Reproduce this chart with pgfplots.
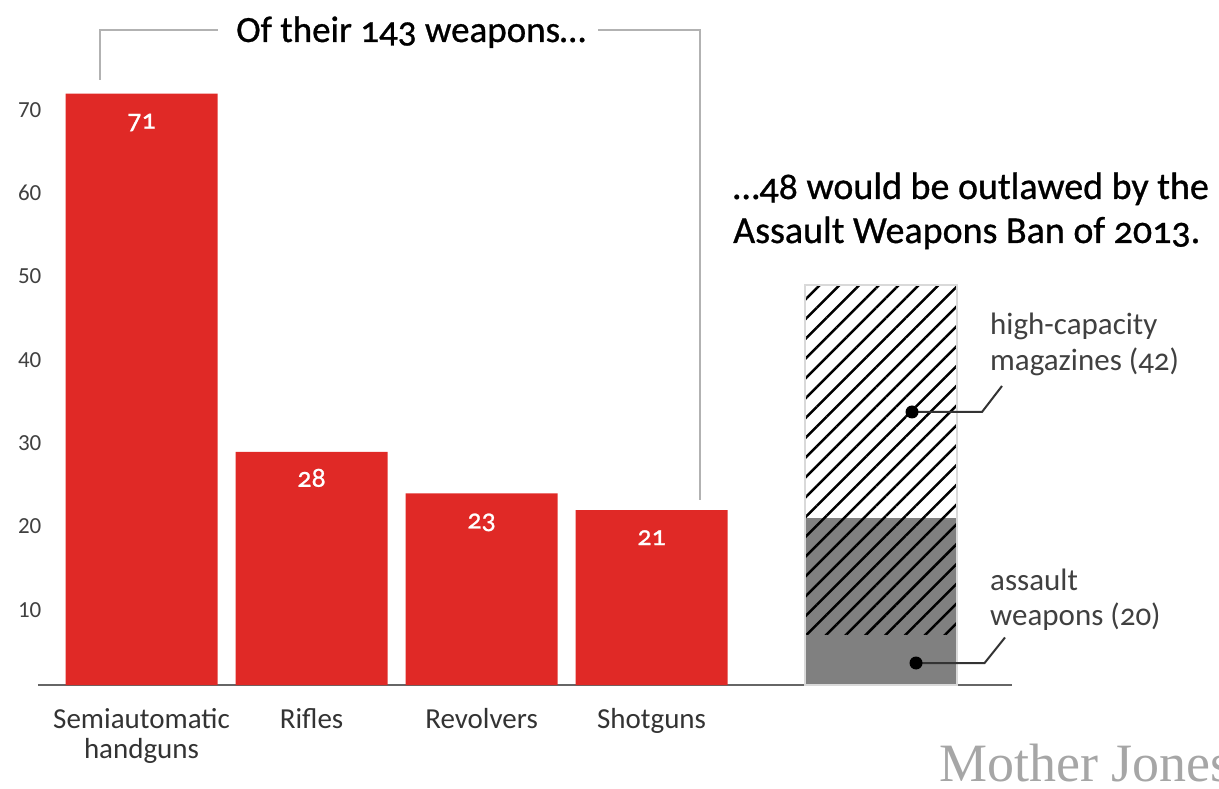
\documentclass[border=0pt]{standalone}
\usepackage{pgfplots}
\pgfplotsset{compat=1.18}
\usepackage{fontspec}
\setmainfont{Carlito}[Numbers=OldStyle]
\newfontfamily\liningfont{Carlito}[Numbers=Lining]
\newfontfamily\medfont{Carlito}[Numbers=OldStyle, FakeBold=0.8]
\newfontfamily\logofont{Liberation Serif}
\usetikzlibrary{patterns.meta}
\definecolor{mjred}{RGB}{224,41,38}
\definecolor{hatchgray}{RGB}{128,128,128}
\pgfplotsset{
  common/.style={
    at={(38pt,103pt)}, anchor=south west,
    scale only axis, width=974pt, height=666.4pt,
    xmin=-0.609, xmax=5.12, ymin=0, ymax=80,
    clip=false, bar width=0.894,
  },
  hatch/.style={postaction={pattern color=black, pattern={Lines[angle=45,distance=14pt,line width=2.5pt]}}},
}
\begin{document}
\begin{tikzpicture}[x=1pt,y=1pt]
\useasboundingbox (0,0) rectangle (1219,788);
% right stacked bar
\begin{axis}[common, ybar stacked, hide axis]
\addplot[fill=hatchgray, draw=none] coordinates {(4.35,6)};
\addplot[fill=hatchgray, draw=none, hatch] coordinates {(4.35,14)};
\addplot[fill=white, draw=none, hatch] coordinates {(4.35,28)};
\end{axis}
% main bars
\begin{axis}[common,
  axis x line=bottom, axis y line=left,
  x axis line style={draw=black!60, line width=2pt, -},
  y axis line style={draw=none},
  tick style={draw=none},
  ytick={10,20,...,70},
  /pgf/number format/assume math mode=true,
  yticklabel style={font=\liningfont\fontsize{23}{26}\selectfont, text=black!75, anchor=east, xshift=9pt, yshift=-8pt},
  xtick={0,1,2,3},
  xticklabels={{Semiautomatic\\handguns},Rifles,Revolvers,Shotguns},
  xticklabel style={font=\fontsize{29}{30}\selectfont, text=black!80, align=center, anchor=north, yshift=-16pt},
  ybar,
]
\addplot[fill=mjred, draw=none, bar shift=0pt,
  point meta=explicit symbolic,
  nodes near coords,
  every node near coord/.append style={anchor=base, yshift=-35pt, text=white, font=\medfont\fontsize{28}{30}\selectfont}]
  coordinates {(0,71) [71] (1,28) [28] (2,23) [23] (3,21) [21]};
\addplot[fill=none, draw=black!15, line width=1.5pt, bar shift=0pt]
  coordinates {(4.35,48)};
\end{axis}
% bracket and title
\draw[black!30, line width=1.5pt] (100,708) -- (100,758) -- (218,758);
\draw[black!30, line width=1.5pt] (598,758) -- (700,758) -- (700,288);
\node[anchor=base west, inner sep=0, font=\medfont\fontsize{37}{40}\selectfont] at (236,746) {Of their 143 weapons…};
% right title
\node[anchor=base west, inner sep=0, align=left, font=\medfont\fontsize{38}{44}\selectfont] at (733,545) {…48 would be outlawed by the\\Assault Weapons Ban of 2013.};
% annotations
\node[anchor=base west, inner sep=0, align=left, text=black!75, font=\fontsize{31}{36}\selectfont] at (990,417) {high-capacity\\magazines (42)};
\node[anchor=base west, inner sep=0, align=left, text=black!75, font=\fontsize{31}{36}\selectfont] at (990,162) {assault\\weapons (20)};
\draw[black!80, line width=2pt] (912,376) -- (982,376) -- (1002,402);
\fill[black] (912,376) circle (6.5);
\draw[black!80, line width=2pt] (916,125) -- (984.6,125) -- (1005,150.5);
\fill[black] (916,125) circle (6.5);
% logo
\begin{scope}
\clip (0,0) rectangle (1219,788);
\node[anchor=base west, inner sep=0, text=black!35, font=\logofont\fontsize{54}{60}\selectfont] at (939,7) {Mother Jones};
\end{scope}
\end{tikzpicture}
\end{document}
